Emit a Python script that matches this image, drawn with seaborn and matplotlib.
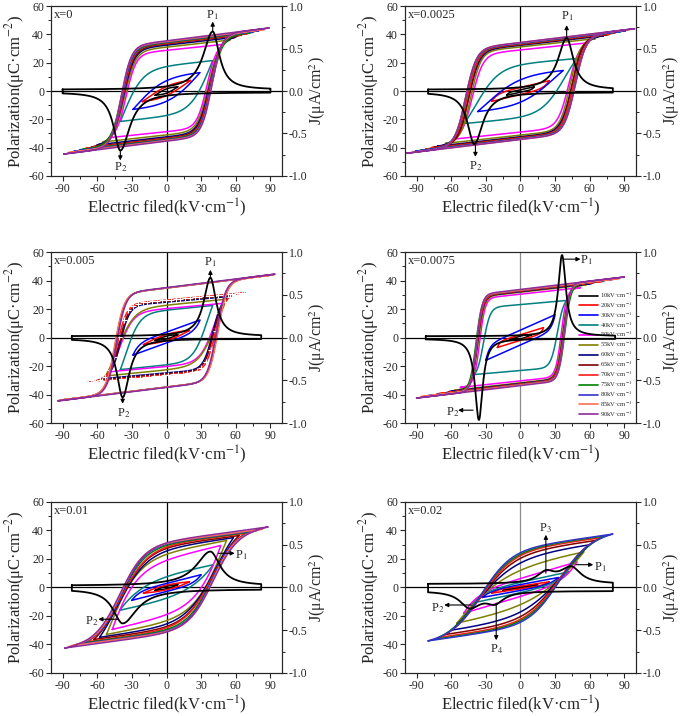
import numpy as np
import pandas as pd
import matplotlib
matplotlib.use("Agg")
import matplotlib.pyplot as plt
from matplotlib.lines import Line2D
from matplotlib.ticker import MultipleLocator, FormatStrFormatter
import seaborn as sns

# applied field of each loop (kV/cm) and the colour used for it
FIELDS = [10, 20, 30, 40, 50, 55, 60, 65, 70, 75, 80, 85, 90]
LOOP_COLORS = ['#000000', '#ff0000', '#0000ff', '#008080', '#ff00ff', '#808000',
               '#000080', '#800000', '#ff1a1a', '#008000', '#3333cc', '#ff7050', '#8e2c9a']

# loop tips (E_max, P_max), remanent polarization and coercive field
x0_emax = [10, 21, 29, 40, 50, 55, 60, 65, 70, 75, 80, 85, 89]
x0_pmax = [3, 7.5, 13, 21.5, 33, 36, 38, 39.5, 40.5, 41.5, 42.5, 43.5, 44.5]
x0_pr = [1.5, 3, 7, 17, 29, 31, 32.5, 33.5, 34, 34.5, 35, 35.5, 36]
x0_ec = [4, 8, 14, 28, 34, 35, 36, 36.5, 37, 37.5, 38, 38.5, 39]

x0025_emax = [12, 25, 37, 49, 58, 65, 72, 77, 82, 87, 91, 95, 99]
x0025_pmax = [3, 7.3, 14.5, 23, 34, 37, 39, 40, 41, 42, 42.5, 43.5, 44]
x0025_pr = [1, 2.5, 7.5, 18, 29, 31, 32, 33, 33.5, 34, 34.5, 35, 35]
x0025_ec = [5, 12, 17, 31, 40, 42, 43, 44, 44.5, 45, 45.5, 46, 46.5]

x005_emax = [10, 20, 29, 40, 49, 53, 57, 60, 68, 92, 92, 93, 94]
x005_pmax = [2, 5, 12.3, 22.5, 24, 27, 29, 30, 31.5, 44, 44, 44, 44.5]
x005_pr = [1, 2, 4, 19, 20, 22, 25, 26, 26, 34.5, 34.5, 34.5, 34.5]
x005_ec = [4, 8, 12, 30, 37, 38, 39, 40, 41, 43, 43, 43, 43]

x0075_emax = [10, 20, 30, 40, 52, 57, 62, 67, 72, 77, 82, 86, 90]
x0075_pmax = [2, 7, 16, 26, 35, 37, 38, 39, 39.5, 40.5, 41, 41.5, 42.5]
x0075_pr = [1, 2, 6, 23, 31, 32, 33, 33.5, 34, 34, 34.5, 34.5, 35]
x0075_ec = [4, 8, 14, 31, 35, 36, 36.5, 37, 37, 37.5, 37.5, 38, 38]

x01_emax = [10, 20, 30, 40.5, 47, 52, 58, 63, 68, 73, 78, 83, 88]
x01_pmax = [2, 4, 9, 16, 29.5, 33, 35, 36.5, 38, 39, 40, 41, 42.5]
x01_pr = [0.8, 1.5, 3, 7.5, 19, 23, 25.5, 27, 28, 29, 30, 30.5, 31]
x01_ec = [4, 8, 12, 19, 30, 33, 34, 35, 35.5, 36, 36.5, 37, 37.5]

x02_emax = [15, 25, 33, 42, 49, 55, 60, 65, 70, 75, 80]
x02_pmax = [2, 4, 7, 11, 18, 25, 30, 33, 35, 36.5, 37.5]
x02_pr = [0.5, 1, 2, 3.5, 6.5, 12, 17, 20, 22, 23, 24]
x02_ec = [5, 8, 12, 17, 22, 25, 27, 28, 29, 29.5, 30]

# J-E current peaks: position, height, half widths (left/right), baseline and field span
x0_jpeak_e, x0_jpeak_h, x0_jw_l, x0_jw_r = [40], [0.685], [10], [7]
x0025_jpeak_e, x0025_jpeak_h, x0025_jw_l, x0025_jw_r = [40], [0.61], [9], [7]
x005_jpeak_e, x005_jpeak_h, x005_jw_l, x005_jw_r = [38], [0.685], [7], [6]
x0075_jpeak_e, x0075_jpeak_h, x0075_jw_l, x0075_jw_r = [36], [0.95], [4], [4]
x01_jpeak_e, x01_jpeak_h, x01_jw_l, x01_jw_r = [38], [0.40], [15], [10]
x02_jpeak_e, x02_jpeak_h, x02_jw_l, x02_jw_r = [22, 44], [0.12, 0.19], [9, 12], [9, 10]
J_BASE = [0.015, 0.015, 0.015, 0.015, 0.02, 0.04]
J_SPAN = [90, 80, 82, 82, 82, 80]

TITLES = ['x=0', 'x=0.0025', 'x=0.005', 'x=0.0075', 'x=0.01', 'x=0.02']
# plateau slope scale and typical switching width (kV/cm) of each panel
SLOPE = [350, 350, 350, 350, 300, 250]
WALL = [9, 9, 8, 5, 17, 20]

panels = [
    dict(emax=x0_emax, pmax=x0_pmax, pr=x0_pr, ec=x0_ec,
         je=x0_jpeak_e, jh=x0_jpeak_h, jl=x0_jw_l, jr=x0_jw_r),
    dict(emax=x0025_emax, pmax=x0025_pmax, pr=x0025_pr, ec=x0025_ec,
         je=x0025_jpeak_e, jh=x0025_jpeak_h, jl=x0025_jw_l, jr=x0025_jw_r),
    dict(emax=x005_emax, pmax=x005_pmax, pr=x005_pr, ec=x005_ec,
         je=x005_jpeak_e, jh=x005_jpeak_h, jl=x005_jw_l, jr=x005_jw_r),
    dict(emax=x0075_emax, pmax=x0075_pmax, pr=x0075_pr, ec=x0075_ec,
         je=x0075_jpeak_e, jh=x0075_jpeak_h, jl=x0075_jw_l, jr=x0075_jw_r),
    dict(emax=x01_emax, pmax=x01_pmax, pr=x01_pr, ec=x01_ec,
         je=x01_jpeak_e, jh=x01_jpeak_h, jl=x01_jw_l, jr=x01_jw_r),
    dict(emax=x02_emax, pmax=x02_pmax, pr=x02_pr, ec=x02_ec,
         je=x02_jpeak_e, jh=x02_jpeak_h, jl=x02_jw_l, jr=x02_jw_r),
]

# arrows to the current peaks: (label, tail, head, label position) in (E, P)
ARROWS = [
    [('P$_1$', (40, 42.5), (40, 49), (40, 53.5)), ('P$_2$', (-40, -42.5), (-40, -49), (-39.5, -53.5))],
    [('P$_1$', (40, 38), (40, 46.5), (41, 53)), ('P$_2$', (-39, -38), (-39, -46.5), (-38.5, -53))],
    [('P$_1$', (38, 42), (38, 47.5), (37.5, 53)), ('P$_2$', (-38, -42), (-38, -46.5), (-37.5, -53))],
    [('P$_1$', (38, 55), (52, 55), (57, 54)), ('P$_2$', (-41, -51), (-54, -51), (-59, -52.5))],
    [('P$_1$', (45, 24), (59, 24), (65, 22.5)), ('P$_2$', (-42, -22.3), (-59, -22.3), (-65, -23.5))],
    [('P$_1$', (48, 16), (63, 16), (69, 14)), ('P$_2$', (-42, -12.3), (-66, -12.3), (-72, -14.5)),
     ('P$_3$', (22, 10), (22, 37), (22, 41.5)), ('P$_4$', (-21, -11), (-21, -37), (-21, -43))],
]

POSITIONS = [
    [0.0745, 0.7542, 0.3372, 0.2374], [0.5912, 0.7542, 0.3372, 0.2374],
    [0.0745, 0.4092, 0.3372, 0.2388], [0.5912, 0.4092, 0.3372, 0.2388],
    [0.0745, 0.0601, 0.3372, 0.2388], [0.5912, 0.0601, 0.3372, 0.2388],
]


def ascending(e, em, pm, a, w, s):
    f = lambda x: np.tanh(x / w) + x / s
    f0, f1 = f(-em - a), f(em - a)
    return -pm + 2 * pm * (f(e - a) - f0) / (f1 - f0)


def fit_branch(em, pm, pr, ec, s, w0):
    """Pick shift and width of the tanh branch so the loop meets Pr and Ec."""
    a = np.linspace(0.0, 1.6 * em, 81)[:, None, None]
    w = np.geomspace(0.5, 400, 81)[None, :, None]
    ev = np.linspace(-em, em, 201)
    e = ev[None, None, :]
    f = np.tanh((e - a) / w) + (e - a) / s
    p = -pm + 2 * pm * (f - f[..., :1]) / (f[..., -1:] - f[..., :1])
    p0 = p[..., 100]
    i = np.clip((p < 0).sum(axis=-1) - 1, 0, 199)
    pi = np.take_along_axis(p, i[..., None], -1)[..., 0]
    pj = np.take_along_axis(p, (i + 1)[..., None], -1)[..., 0]
    d = np.where(np.abs(pj - pi) < 1e-9, 1e-9, pj - pi)
    e0 = ev[i] + (ev[1] - ev[0]) * (-pi) / d
    loss = ((p0 + pr) / pm) ** 2 + ((e0 - ec) / em) ** 2
    loss = loss + 0.004 * np.log(w[..., 0] / w0) ** 2
    k = np.unravel_index(np.argmin(loss), loss.shape)
    return a[k[0], 0, 0], w[0, k[1], 0]


def loop_frame(em, pm, pr, ec, s, w0):
    a, w = fit_branch(em, pm, pr, ec, s, w0)
    e = np.linspace(-em, em, 300)
    p = ascending(e, em, pm, a, w, s)
    return pd.DataFrame({'E': np.r_[e, -e], 'P': np.r_[p, -p]})


def current_frame(span, base, pe, ph, wl, wr):
    e = np.linspace(-span, span, 500)
    j = np.full_like(e, base)
    for c, h, l, r in zip(pe, ph, wl, wr):
        wid = np.where(e < c, l, r)
        j += h / (1 + ((e - c) / wid) ** 2)
    return pd.DataFrame({'E': np.r_[e, -e, e[:1]], 'J': np.r_[j, -j, j[:1]]})


sns.set_style("ticks")
plt.rcParams['font.family'] = ['Liberation Serif', 'DejaVu Serif']
plt.rcParams['mathtext.fontset'] = 'stix'
plt.rcParams['axes.unicode_minus'] = False

fig = plt.figure(figsize=(6.85, 7.16), dpi=100)

for idx, pan in enumerate(panels):
    ax = fig.add_axes(POSITIONS[idx])
    ax2 = ax.twinx()
    zero_col = '#8c8c8c' if idx in (3, 5) else 'black'
    ax.axhline(0, color='black', lw=0.9, zorder=1)
    ax.axvline(0, color=zero_col, lw=0.9, zorder=1)

    for k, em in enumerate(pan['emax']):
        df = loop_frame(em, pan['pmax'][k], pan['pr'][k], pan['ec'][k], SLOPE[idx], WALL[idx])
        extra = {}
        if idx == 2 and FIELDS[k] == 70:
            extra = dict(marker='+', markersize=4, markevery=9, markeredgewidth=0.8)
        sns.lineplot(data=df, x='E', y='P', sort=False, estimator=None,
                     color=LOOP_COLORS[k], lw=1.1, ax=ax, legend=False, **extra)

    jf = current_frame(J_SPAN[idx], J_BASE[idx], pan['je'], pan['jh'], pan['jl'], pan['jr'])
    sns.lineplot(data=jf, x='E', y='J', sort=False, estimator=None,
                 color='black', lw=1.3, ax=ax2, legend=False)

    for lab, tail, head, tpos in ARROWS[idx]:
        ax.annotate('', xy=head, xytext=tail,
                    arrowprops=dict(arrowstyle='-|>', color='black', lw=0.8,
                                    mutation_scale=6, shrinkA=0, shrinkB=0))
        ax.text(tpos[0], tpos[1], lab, fontsize=9, ha='center', va='center')

    ax.set_xlim(-100, 100)
    ax.set_ylim(-60, 60)
    ax2.set_ylim(-1.0, 1.0)
    ax.set_xticks(np.arange(-90, 91, 30))
    ax.set_yticks(np.arange(-60, 61, 20))
    ax2.set_yticks(np.arange(-1.0, 1.01, 0.5))
    ax.xaxis.set_minor_locator(MultipleLocator(15))
    ax.yaxis.set_minor_locator(MultipleLocator(10))
    ax2.yaxis.set_minor_locator(MultipleLocator(0.25))
    ax2.yaxis.set_major_formatter(FormatStrFormatter('%.1f'))
    for a_ in (ax, ax2):
        a_.tick_params(which='major', direction='out', length=3.5, width=0.8, labelsize=8.5, pad=1.5)
        a_.tick_params(which='minor', direction='out', length=2, width=0.7)
        for sp in a_.spines.values():
            sp.set_linewidth(0.8)
            sp.set_visible(True)
    ax.tick_params(top=False, right=False, which='both')

    ax.set_xlabel('Electric filed(kV·cm$^{-1}$)', fontsize=12, labelpad=1)
    ax.set_ylabel('Polarization(μC·cm$^{-2}$)', fontsize=12, labelpad=1)
    ax2.set_ylabel('J(μA/cm$^{2}$)', fontsize=11.5, labelpad=0)
    ax.text(0.012, 0.945, TITLES[idx], transform=ax.transAxes, fontsize=9,
            ha='left', va='center')

    if idx == 3:
        handles = [Line2D([], [], color=c, lw=1.2) for c in LOOP_COLORS]
        labels = [f'{f}kV·cm$^{{-1}}$' for f in FIELDS]
        leg = ax.legend(handles, labels, loc='lower right', bbox_to_anchor=(0.995, 0.01),
                        fontsize=4.8, frameon=False, handlelength=2.8, labelspacing=0.0,
                        handletextpad=0.3, borderaxespad=0.2, borderpad=0.2)
        leg.set_zorder(1)

fig.savefig('out.png', dpi=100)
